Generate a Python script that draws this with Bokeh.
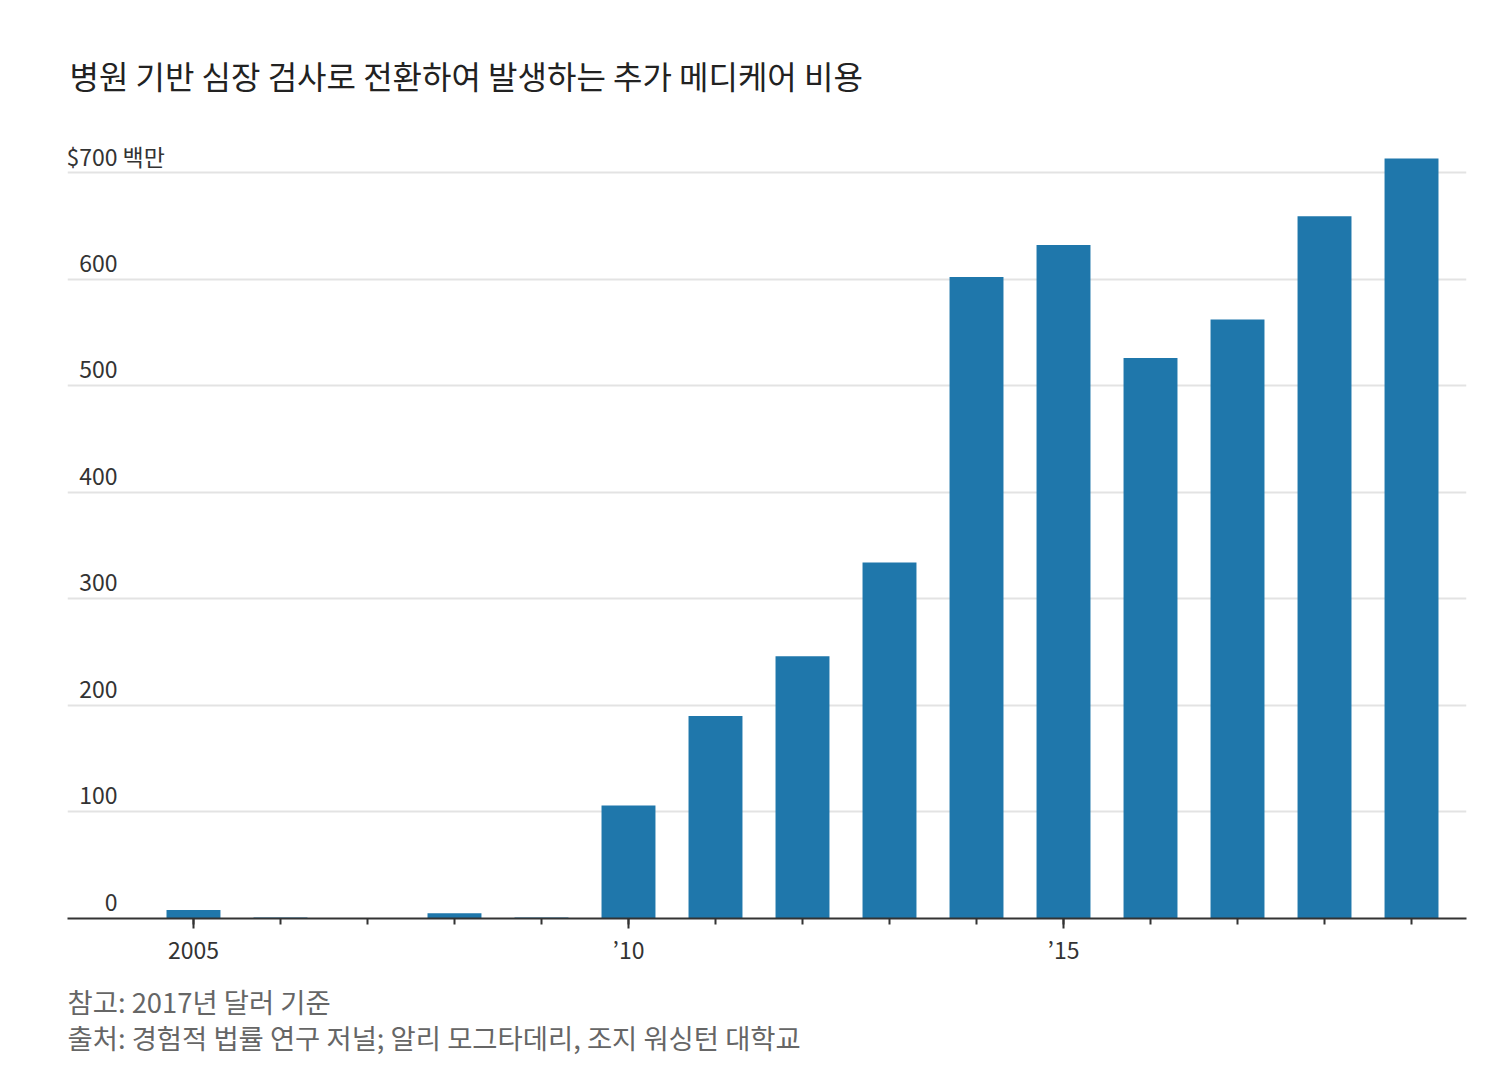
from bokeh.plotting import figure
from bokeh.models import FixedTicker, Range1d, Title, ColumnDataSource
from bokeh.core.properties import value
from bokeh.embed import file_html
from bokeh.resources import INLINE

years = [2005, 2006, 2007, 2008, 2009, 2010, 2011, 2012, 2013, 2014, 2015, 2016, 2017, 2018, 2019]
costs = [8, 1, 0, 5, 1, 106, 190, 246, 334, 602, 632, 526, 562, 659, 713]
y_ticks = [0, 100, 200, 300, 400, 500, 600, 700]
y_tick_labels = ["0", "100", "200", "300", "400", "500", "600", "$700"]
x_major_ticks = [2005, 2010, 2015]
x_major_labels = {2005: "2005", 2010: "\u201910", 2015: "\u201915"}
title_text = "병원 기반 심장 검사로 전환하여 발생하는 추가 메디케어 비용"
unit_text = "백만"
note_text = "참고: 2017년 달러 기준"
source_text = "출처: 경험적 법률 연구 저널; 알리 모그타데리, 조지 워싱턴 대학교"

FONT = "Noto Sans CJK KR"
x_start, x_end = 2003.552, 2019.632
y_start, y_end = 0, 749.7

p = figure(width=1498, height=1067, output_backend="svg", toolbar_location=None,
           x_range=Range1d(x_start, x_end), y_range=Range1d(y_start, y_end),
           min_border_left=67, min_border_right=32, min_border_top=119, min_border_bottom=148)
p.outline_line_color = None
p.background_fill_color = "white"
p.border_fill_color = "white"

p.title.text = title_text
p.title.text_font = FONT
p.title.text_font_size = "32px"
p.title.text_font_style = "normal"
p.title.text_color = "#222222"
p.title.offset = 2
p.title.standoff = 43

p.vbar(x=years, top=costs, width=0.62, bottom=0, fill_color="#1f77ab", line_color=None)

p.yaxis.visible = False
p.yaxis.ticker = FixedTicker(ticks=y_ticks)
p.ygrid.ticker = FixedTicker(ticks=y_ticks)
p.ygrid.grid_line_color = "#e3e3e3"
p.ygrid.grid_line_width = 2
p.xgrid.visible = False

src = ColumnDataSource(dict(x=[x_start] * len(y_ticks), y=y_ticks, t=y_tick_labels))
p.text(x="x", y="y", text="t", source=src, x_offset=50, y_offset=-16,
       text_align="right", text_baseline="alphabetic", text_font=value(FONT),
       text_font_size="23px", text_color="#333333")
p.text(x=[x_start], y=[y_ticks[-1]], text=[unit_text], x_offset=55, y_offset=-16,
       text_align="left", text_baseline="alphabetic", text_font=value(FONT),
       text_font_size="23px", text_color="#333333")

xa = p.xaxis[0]
xa.ticker = FixedTicker(ticks=x_major_ticks, minor_ticks=years)
xa.major_label_overrides = x_major_labels
xa.axis_line_color = "#333333"
xa.axis_line_width = 2
xa.major_tick_line_color = "#333333"
xa.major_tick_line_width = 2
xa.minor_tick_line_color = "#333333"
xa.minor_tick_line_width = 2
xa.major_tick_out = 10
xa.major_tick_in = 0
xa.minor_tick_out = 6
xa.minor_tick_in = 0
xa.major_label_standoff = 3
xa.major_label_text_font = FONT
xa.major_label_text_font_size = "23px"
xa.major_label_text_color = "#333333"

foot = Title(text=note_text + "\n" + source_text, text_font=FONT, text_font_size="27.4px",
             text_font_style="normal", text_color="#666666", align="left",
             text_line_height=0.92, offset=0, standoff=20)
p.add_layout(foot, "below")

open("out.html", "w").write(file_html(p, INLINE))
